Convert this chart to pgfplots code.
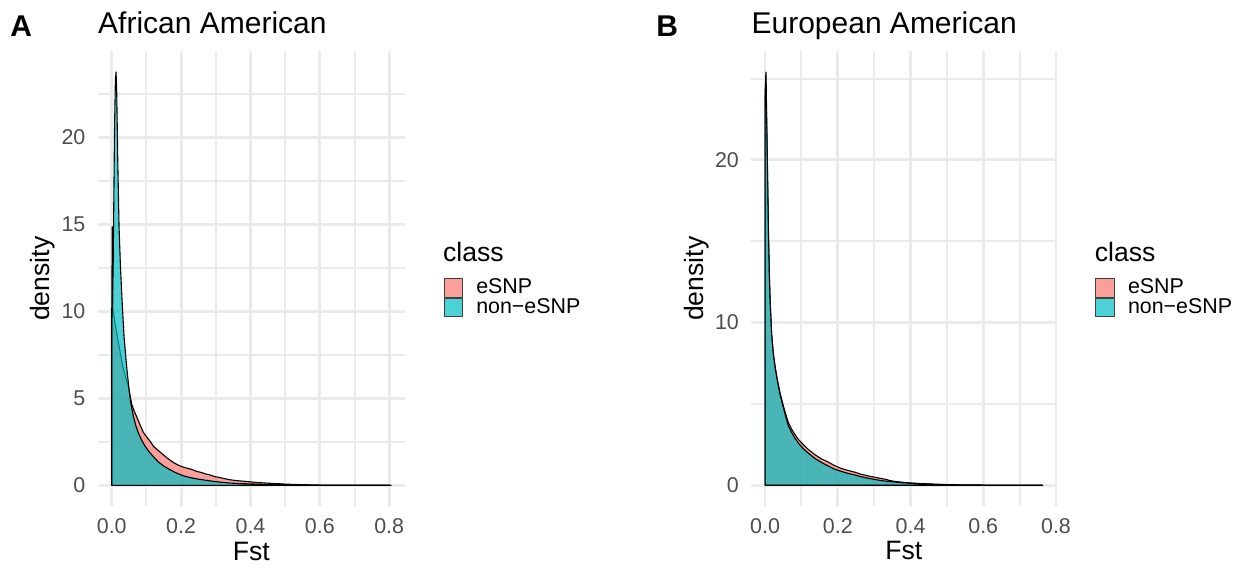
\documentclass[border=0pt]{standalone}
\usepackage{fontspec}
\setmainfont{Liberation Sans}
\usepackage{pgfplots}
\pgfplotsset{compat=1.18}
\usepackage{pgfplotstable}
\definecolor{gridc}{HTML}{EBEBEB}
\definecolor{esnp}{HTML}{F8766D}
\definecolor{nonesnp}{HTML}{00BFC4}
\definecolor{ticklab}{HTML}{4D4D4D}
\newcommand{\tickfont}{\fontsize{10.7}{12}\selectfont}
\newcommand{\labfont}{\fontsize{13.3}{15}\selectfont}
\newcommand{\titfont}{\fontsize{15}{17}\selectfont}

\pgfplotstableread{
x y
0 0
0 9.8
0.0015 14.86
0.003 10.2
0.005 9.9
0.0144 8.74
0.0317 6.82
0.048 5.67
0.0576 4.65
0.065 4.25
0.072 3.94
0.081 3.5
0.091 3.05
0.100 2.8
0.110 2.55
0.120 2.25
0.134 2.0
0.146 1.8
0.158 1.6
0.170 1.42
0.182 1.26
0.194 1.14
0.206 1.05
0.218 0.98
0.230 0.92
0.245 0.8
0.258 0.74
0.270 0.66
0.283 0.6
0.297 0.5
0.312 0.45
0.326 0.38
0.341 0.32
0.356 0.28
0.372 0.25
0.389 0.22
0.405 0.19
0.42 0.16
0.437 0.14
0.455 0.12
0.47 0.10
0.485 0.09
0.50 0.07
0.52 0.055
0.535 0.045
0.56 0.03
0.58 0.02
0.62 0.012
0.66 0.008
0.70 0.005
0.75 0.004
0.805 0.002
0.805 0
}\esnpA

\pgfplotstableread{
x y
0 0
0 9.3
0.002 10.5
0.004 12.5
0.006 16.5
0.008 20.5
0.0105 23.3
0.0124 23.75
0.0144 22.5
0.0173 18.7
0.021 14.86
0.025 12.6
0.0288 11.0
0.0322 9.7
0.0357 8.5
0.043 6.8
0.051 5.3
0.056 4.6
0.062 4.0
0.069 3.45
0.077 3.0
0.086 2.6
0.096 2.25
0.108 1.92
0.12 1.65
0.134 1.35
0.149 1.12
0.165 0.93
0.187 0.70
0.206 0.55
0.225 0.45
0.245 0.37
0.265 0.31
0.293 0.23
0.32 0.17
0.341 0.13
0.37 0.10
0.40 0.08
0.45 0.05
0.50 0.03
0.55 0.02
0.60 0.012
0.65 0.008
0.70 0.005
0.75 0.003
0.805 0.002
0.805 0
}\nonA

\pgfplotstableread{
x y
0 0
0 24.0
0.002 25.2
0.0045 22.0
0.0063 19.6
0.0091 15.5
0.0115 13.0
0.0137 11.4
0.018 9.3
0.0225 8.15
0.0275 7.3
0.034 6.45
0.041 5.7
0.05 4.9
0.057 4.35
0.064 3.85
0.073 3.45
0.082 3.12
0.093 2.78
0.105 2.5
0.12 2.18
0.137 1.88
0.155 1.62
0.174 1.42
0.19 1.22
0.211 1.02
0.23 0.9
0.247 0.8
0.265 0.67
0.284 0.57
0.3 0.5
0.316 0.43
0.33 0.37
0.345 0.28
0.362 0.22
0.385 0.17
0.408 0.13
0.43 0.1
0.454 0.08
0.48 0.055
0.5 0.04
0.55 0.02
0.6 0.01
0.65 0.007
0.7 0.004
0.763 0.002
0.763 0
}\esnpB

\pgfplotstableread{
x y
0 0
0 23.5
0.0025 25.4
0.0045 22.5
0.0063 20.0
0.0091 15.9
0.0115 13.2
0.0137 11.5
0.018 9.25
0.0225 8.1
0.0275 7.25
0.034 6.4
0.041 5.6
0.05 4.8
0.057 4.2
0.064 3.65
0.073 3.25
0.082 2.9
0.093 2.55
0.105 2.25
0.12 1.95
0.137 1.65
0.155 1.4
0.174 1.18
0.19 1.0
0.211 0.84
0.23 0.72
0.247 0.63
0.265 0.52
0.284 0.43
0.305 0.34
0.325 0.27
0.35 0.21
0.375 0.16
0.40 0.12
0.43 0.085
0.46 0.06
0.5 0.035
0.55 0.02
0.6 0.012
0.65 0.008
0.7 0.005
0.763 0.002
0.763 0
}\nonB

\pgfplotsset{
  ggpanel/.style={
    scale only axis, clip=false,
    axis line style={draw=none},
    tick style={draw=none},
    major tick length=0pt, minor tick length=0pt,
    grid=both,
    major grid style={draw=gridc, line width=1.4pt},
    minor grid style={draw=gridc, line width=1.0pt},
    xtick={0,0.2,0.4,0.6,0.8},
    minor xtick={0.1,0.3,0.5,0.7},
    xticklabels={0.0,0.2,0.4,0.6,0.8},
    xticklabel style={font=\tickfont, text=ticklab, inner sep=0pt, anchor=north, yshift=-6pt},
    yticklabel style={font=\tickfont, text=ticklab, inner sep=0pt, anchor=east, xshift=-6pt},
    every axis x label/.style={at={(rel axis cs:0.5,0)}, anchor=center, yshift=-22.5pt, font=\labfont},
    every axis y label/.style={at={(rel axis cs:0,0.5)}, xshift=-27.5pt, anchor=center, rotate=90, font=\labfont},
    xlabel={Fst}, ylabel={density},
    legend style={draw=none, fill=none, inner sep=0pt, anchor=west, font=\tickfont, row sep=0pt, column sep=6.6pt, nodes={inner sep=0pt, anchor=west}},
    legend cell align=left,
    legend image code/.code={\draw[#1, line width=0.5pt, draw=black!75] (0pt,-4.6pt) rectangle (9.2pt,4.6pt);},
    /pgf/number format/assume math mode=true,
  },
  dens/.style={draw=black, line width=0.55pt, line join=round, fill=#1, fill opacity=0.7},
}

\begin{document}
\begin{tikzpicture}
\path[use as bounding box] (0,0) rectangle (619pt,284.5pt);

\begin{axis}[ggpanel, at={(48.9pt,31.5pt)}, anchor=south west,
  width=153.55pt, height=227.35pt,
  xmin=-0.04025, xmax=0.84525, ymin=-1.1875, ymax=24.9375,
  ytick={0,5,10,15,20}, minor ytick={2.5,7.5,12.5,17.5,22.5},
  legend style={at={(1.125,0.4585)}}]
\addplot[dens=esnp] table {\esnpA} -- cycle;
\addlegendentry{eSNP}
\addplot[dens=nonesnp] table {\nonA} -- cycle;
\addlegendentry{non−eSNP}
\node[anchor=base west, inner sep=0pt, font=\labfont] at (rel axis cs:1.123,0.537) {class};
\node[anchor=base west, inner sep=0pt, font=\titfont, yshift=9pt] at (rel axis cs:0,1) {African American};
\node[anchor=base west, inner sep=0pt, font=\titfont\bfseries] at (rel axis cs:-0.286,1.032) {A};
\end{axis}

\begin{axis}[ggpanel, at={(375.6pt,31.55pt)}, anchor=south west,
  width=152.6pt, height=227.25pt,
  xmin=-0.03815, xmax=0.80115, ymin=-1.27, ymax=26.67,
  ytick={0,10,20}, minor ytick={5,15,25},
  legend style={at={(1.1265,0.4585)}}]
\addplot[dens=esnp] table {\esnpB} -- cycle;
\addlegendentry{eSNP}
\addplot[dens=nonesnp] table {\nonB} -- cycle;
\addlegendentry{non−eSNP}
\node[anchor=base west, inner sep=0pt, font=\labfont] at (rel axis cs:1.1245,0.537) {class};
\node[anchor=base west, inner sep=0pt, font=\titfont, yshift=9pt] at (rel axis cs:0,1) {European American};
\node[anchor=base west, inner sep=0pt, font=\titfont\bfseries] at (rel axis cs:-0.312,1.032) {B};
\end{axis}
\end{tikzpicture}
\end{document}
